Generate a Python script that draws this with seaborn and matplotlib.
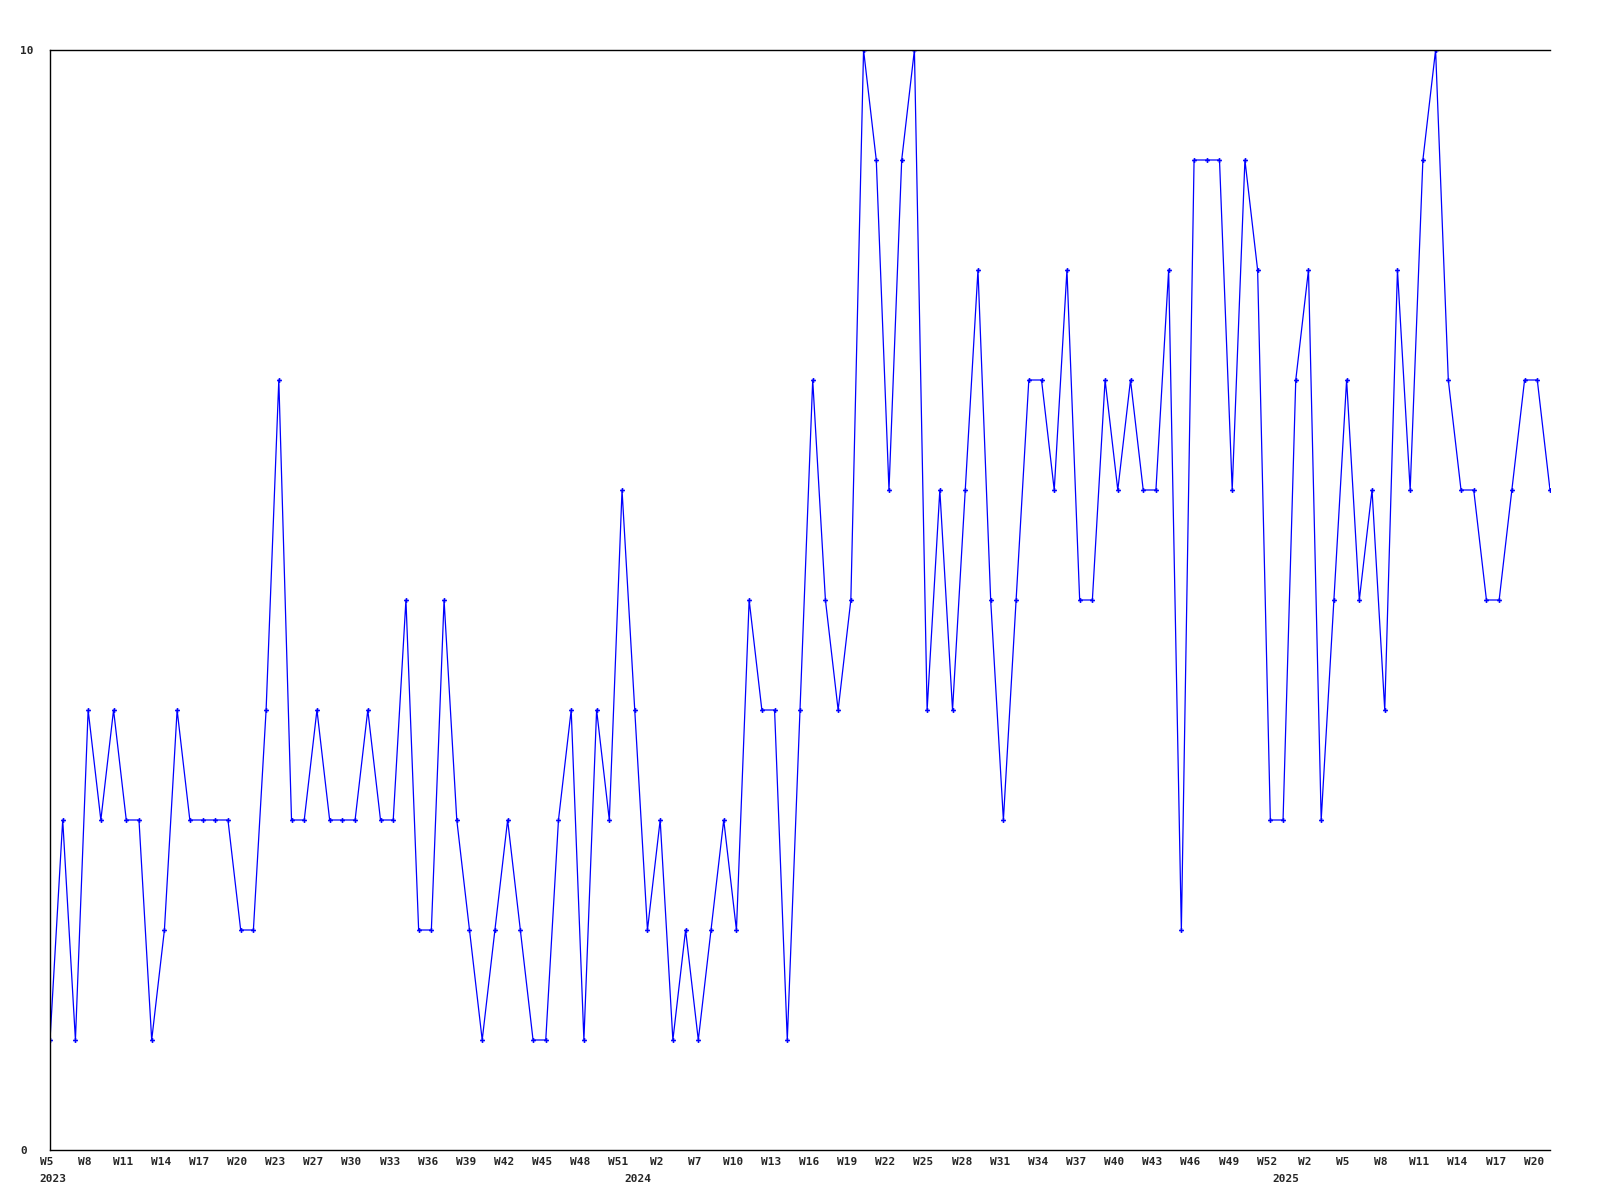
import numpy as np
import pandas as pd
import matplotlib
matplotlib.use('Agg')
import matplotlib.pyplot as plt
import matplotlib.transforms as mtransforms
import seaborn as sns

# weekly counts, 2023 W5 .. 2025 W21 (one point per sample)
counts = [
    1, 3, 1, 4, 3, 4, 3, 3, 1, 2,
    4, 3, 3, 3, 3, 2, 2, 4, 7, 3,
    3, 4, 3, 3, 3, 4, 3, 3, 5, 2,
    2, 5, 3, 2, 1, 2, 3, 2, 1, 1,
    3, 4, 1, 4, 3, 6, 4, 2, 3, 1,
    2, 1, 2, 3, 2, 5, 4, 4, 1, 4,
    7, 5, 4, 5, 10, 9, 6, 9, 10, 4,
    6, 4, 6, 8, 5, 3, 5, 7, 7, 6,
    8, 5, 5, 7, 6, 7, 6, 6, 8, 2,
    9, 9, 9, 6, 9, 8, 3, 3, 7, 8,
    3, 5, 7, 5, 6, 4, 8, 6, 9, 10,
    7, 6, 6, 5, 5, 6, 7, 7, 6,
]

# week label shown under every third sample
week_labels = [
    'W5', 'W8', 'W11', 'W14', 'W17', 'W20', 'W23', 'W27', 'W30', 'W33',
    'W36', 'W39', 'W42', 'W45', 'W48', 'W51', 'W2', 'W7', 'W10', 'W13',
    'W16', 'W19', 'W22', 'W25', 'W28', 'W31', 'W34', 'W37', 'W40', 'W43',
    'W46', 'W49', 'W52', 'W2', 'W5', 'W8', 'W11', 'W14', 'W17', 'W20',
]
label_step = 3

# year markers: (text, sample index)
years = ['2023', '2024', '2025']
year_pos = [0, 46, 97]

y_ticks = [0, 10]

df = pd.DataFrame({'sample': np.arange(len(counts)), 'count': counts})

sns.set_style('white')
plt.rcParams['font.family'] = ['DejaVu Sans Mono', 'DejaVu Sans']
plt.rcParams['font.weight'] = 'bold'
plt.rcParams['font.size'] = 8

fig = plt.figure(figsize=(16, 12), dpi=100)
ax = fig.add_axes([50 / 1600, 50 / 1200, 1500 / 1600, 1100 / 1200])

sns.lineplot(data=df, x='sample', y='count', ax=ax, color='#0000ff', linewidth=0.9,
             marker='P', markersize=3.5, markeredgewidth=0, markerfacecolor='#0000ff')

ax.set_xlim(0, len(counts) - 1)
ax.set_ylim(0, 10)
ax.set_xlabel('')
ax.set_ylabel('')

ax.set_xticks(np.arange(0, len(counts), label_step)[:len(week_labels)])
ax.set_xticklabels(week_labels)
ax.set_yticks(y_ticks)
ax.set_yticklabels([str(t) for t in y_ticks])

ax.tick_params(axis='x', length=0, pad=5, labelsize=8)
ax.tick_params(axis='y', length=0, pad=21.6, labelsize=8)
for lab in ax.get_yticklabels():
    lab.set_horizontalalignment('left')

# week labels sit a few pixels left of their sample
shift = mtransforms.ScaledTranslation(-3.5 / 100, 0, fig.dpi_scale_trans)
for lab in ax.get_xticklabels():
    lab.set_transform(lab.get_transform() + shift)

for txt, pos in zip(years, year_pos):
    ax.annotate(txt, xy=(pos, 0), xycoords=('data', 'axes fraction'),
                xytext=(-7.5, -21), textcoords='offset points',
                ha='left', va='center', fontsize=8, fontweight='bold')

for side in ['top', 'left', 'bottom']:
    ax.spines[side].set_visible(True)
    ax.spines[side].set_color('black')
    ax.spines[side].set_linewidth(1.0)
ax.spines['right'].set_visible(False)
ax.grid(False)

fig.savefig('out.png', dpi=100)
